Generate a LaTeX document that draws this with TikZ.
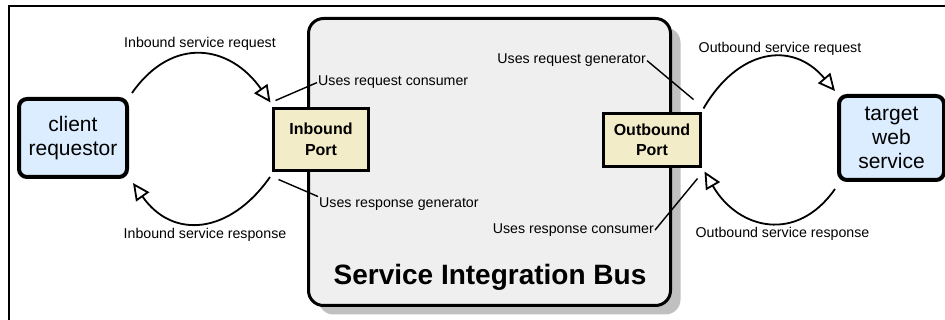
\documentclass[tikz,border=0pt]{standalone}
\usepackage{fontspec}
\setmainfont{Liberation Sans}
\usetikzlibrary{arrows.meta,shadows}
\definecolor{endblue}{RGB}{219,237,254}
\definecolor{portfill}{RGB}{243,236,200}
\definecolor{busfill}{RGB}{239,239,239}
\definecolor{busshade}{RGB}{192,192,192}
\newcommand{\lblfont}{\fontsize{14.2}{16}\selectfont}

\begin{document}
\begin{tikzpicture}[
      x = 1pt, y = -1pt,
      flow edge/.style={-{Triangle[open, length=17pt, width=16pt]},
        line width = 1.8pt, looseness = 1.3},
      leader/.style={line width = 1.4pt},
      endpoint/.style={
        draw,
        line width = 4pt,
        rounded corners = 8pt,
        fill = endblue,
        align = center,
        inner sep = 0pt,
        font = \fontsize{21}{24}\selectfont,
      },
      port/.style={
        draw,
        line width = 3pt,
        fill = portfill,
        align = center,
        inner sep = 0pt,
        font = \fontsize{16}{20.5}\selectfont\bfseries,
      },
      bus/.style={
        draw,
        line width = 3pt,
        rounded corners = 15pt,
        fill = busfill,
        inner sep = 0pt,
        drop shadow = {shadow xshift = 10pt, shadow yshift = -9pt,
          fill = busshade, opacity = 1},
      },
      flow label/.style={font = \lblfont, inner sep = 1pt, anchor = base},
      use label/.style={font = \lblfont, inner sep = 1pt},
    ]
    \useasboundingbox (0, 0) rectangle (945, 320);
    \draw[line width = 2pt] (945, 6) -- (9, 6) -- (9, 320);

    \node[bus, minimum width = 362pt, minimum height = 287pt] (sib) at (489.5, 162) {};
    \node[font = \fontsize{28}{30}\selectfont\bfseries, anchor = base] (sibname)
      at (490, 285) {Service Integration Bus};

    \node[endpoint, minimum width = 108pt, minimum height = 78pt] (client)
      at (73, 138) {client\\requestor};
    \node[endpoint, minimum width = 105pt, minimum height = 84pt] (target)
      at (891.5, 138) {target\\web\\service};

    \node[port, minimum width = 95pt, minimum height = 62pt] (inport)
      at (321, 139.5) {Inbound\\Port};
    \node[port, minimum width = 97pt, minimum height = 53pt] (outport)
      at (652, 140) {Outbound\\Port};

    \node[flow label] (inreq) at (200, 48) {Inbound service request};
    \node[flow label] (inresp) at (205, 239) {Inbound service response};
    \node[flow label] (outreq) at (780, 53) {Outbound service request};
    \node[flow label] (outresp) at (782.5, 237.5) {Outbound service response};

    \node[use label, anchor = base west] (reqcons) at (317, 86) {Uses request consumer};
    \node[use label, anchor = base west] (respgen) at (318, 207.5) {Uses response generator};
    \node[use label, anchor = base east] (reqgen) at (647, 64) {Uses request generator};
    \node[use label, anchor = base east] (respcons) at (655, 233.5) {Uses response consumer};

    % requests go over the top, responses come back underneath
    \draw[flow edge] ([shift={(3,-4)}]client.north east) to[out = 55, in = 125]
      ([shift={(-1.5,-4.5)}]inport.north west);
    \draw[flow edge] ([shift={(-2,5)}]inport.south west) to[out = 235, in = 305]
      ([shift={(4,4)}]client.south east);
    \draw[flow edge] ([shift={(1.5,-3.5)}]outport.north east) to[out = 60, in = 130]
      ([shift={(-2,-3)}]target.north west);
    \draw[flow edge] ([shift={(-2,7)}]target.south west) to[out = 235, in = 300]
      ([shift={(2.5,3.5)}]outport.south east);

    \draw[leader] (reqcons.west) -- ([shift={(3.5,-6.5)}]inport.north west);
    \draw[leader] (respgen.north west) -- ([shift={(6.5,7.5)}]inport.south west);
    \draw[leader] (reqgen.east) -- ([shift={(-8.5,-12.5)}]outport.north east);
    \draw[leader] (respcons.east) -- ([shift={(-4.5,10.5)}]outport.south east);
  \end{tikzpicture}
\end{document}
